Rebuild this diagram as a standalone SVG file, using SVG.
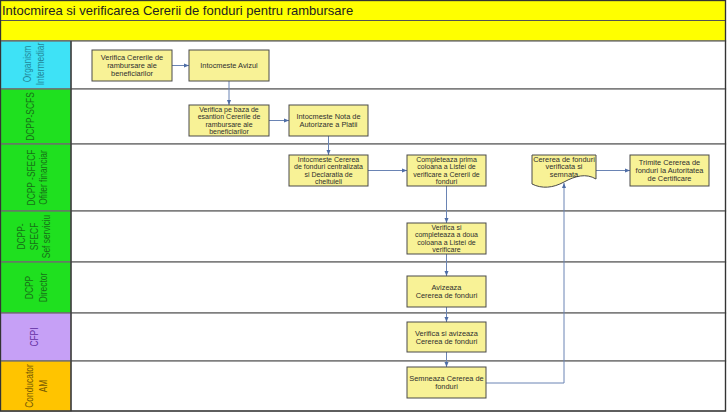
<svg xmlns="http://www.w3.org/2000/svg" width="728" height="412" viewBox="0 0 728 412">
<style>
.lane{fill:#fff;stroke:#6e6e6e;stroke-width:1.3}
.hdr{stroke:#555;stroke-width:1.2}
.lbl{font-family:"Liberation Sans",Arial,sans-serif;font-size:8.4px;text-anchor:middle}
.box{fill:#F8F296;stroke:#4a4a4a;stroke-width:1}
.t{font-family:"Liberation Sans",Arial,sans-serif;font-size:7.4px;fill:#2e2e2e;text-anchor:middle}
.t4{font-family:"Liberation Sans",Arial,sans-serif;font-size:7px;fill:#2e2e2e;text-anchor:middle}
.c{fill:none;stroke:#6A84B4;stroke-width:1}
</style>
<defs>
<marker id="ah" viewBox="0 0 10 10" refX="10" refY="5" markerWidth="5" markerHeight="5" orient="auto" markerUnits="userSpaceOnUse">
<path d="M0,1 L10,5 L0,9 z" fill="#4E6DA6"/>
</marker>
</defs>
<rect x="0" y="0" width="728" height="412" fill="#fff"/>
<g id="header">
<rect x="0.5" y="0.5" width="725" height="40.5" fill="#FFFF00" stroke="#555" stroke-width="1.2"/>
<line x1="0.5" y1="20.5" x2="725.5" y2="20.5" class="hdr"/>
<text x="2" y="14.8" font-family="'Liberation Sans',Arial,sans-serif" font-size="13" fill="#222">Intocmirea si verificarea Cererii de fonduri pentru rambursare</text>
</g>
<g id="lanes">
<rect class="lane" x="0.5" y="41" width="725" height="48"/>
<rect class="lane" x="0.5" y="89" width="725" height="55"/>
<rect class="lane" x="0.5" y="144" width="725" height="67"/>
<rect class="lane" x="0.5" y="211" width="725" height="51"/>
<rect class="lane" x="0.5" y="262" width="725" height="51"/>
<rect class="lane" x="0.5" y="313" width="725" height="48"/>
<rect class="lane" x="0.5" y="361" width="725" height="50"/>
<rect x="0.5" y="41" width="70.5" height="48" fill="#3EE2F6" stroke="#6e6e6e" stroke-width="1.3"/>
<rect x="0.5" y="89" width="70.5" height="55" fill="#1FE01F" stroke="#6e6e6e" stroke-width="1.3"/>
<rect x="0.5" y="144" width="70.5" height="67" fill="#1FE01F" stroke="#6e6e6e" stroke-width="1.3"/>
<rect x="0.5" y="211" width="70.5" height="51" fill="#1FE01F" stroke="#6e6e6e" stroke-width="1.3"/>
<rect x="0.5" y="262" width="70.5" height="51" fill="#1FE01F" stroke="#6e6e6e" stroke-width="1.3"/>
<rect x="0.5" y="313" width="70.5" height="48" fill="#C6A0F6" stroke="#6e6e6e" stroke-width="1.3"/>
<rect x="0.5" y="361" width="70.5" height="50" fill="#FFC400" stroke="#6e6e6e" stroke-width="1.3"/>
<line x1="71" y1="41" x2="71" y2="411" stroke="#333" stroke-width="1.2"/>
<rect x="0.5" y="0.5" width="725" height="410.5" fill="none" stroke="#333" stroke-width="1.2"/>
<text class="lbl" fill="#23899A" transform="translate(35.5,64) rotate(-90) scale(1,1.3)"><tspan x="0" y="-3.3">Organism</tspan><tspan x="0" y="6.7">Intermediar</tspan></text>
<text class="lbl" fill="#177017" transform="translate(35.5,116.5) rotate(-90) scale(1,1.3)"><tspan x="0" y="-1.2">DCPP-SCFS</tspan></text>
<text class="lbl" fill="#177017" transform="translate(35.5,177.5) rotate(-90) scale(1,1.3)"><tspan x="0" y="-0.4">DCPP -SFECF</tspan><tspan x="0" y="8.5">Ofiter financiar</tspan></text>
<text class="lbl" fill="#177017" transform="translate(35.5,236.5) rotate(-90) scale(1,1.3)"><tspan x="0" y="-8.1">DCPP-</tspan><tspan x="0" y="1.6">SFECF</tspan><tspan x="0" y="11.5">Sef serviciu</tspan></text>
<text class="lbl" fill="#177017" transform="translate(35.5,287.5) rotate(-90) scale(1,1.3)"><tspan x="0" y="-1.9">DCPP</tspan><tspan x="0" y="8.5">Director</tspan></text>
<text class="lbl" fill="#6530A4" transform="translate(35.5,337) rotate(-90) scale(1,1.3)"><tspan x="0" y="1.9">CFPI</tspan></text>
<text class="lbl" fill="#735804" transform="translate(35.5,386) rotate(-90) scale(1,1.3)"><tspan x="0" y="-1.9">Conducator</tspan><tspan x="0" y="8.5">AM</tspan></text>
</g>
<g id="connectors">
<path class="c" d="M172,65.5 H189" marker-end="url(#ah)"/>
<path class="c" d="M229,81 V105" marker-end="url(#ah)"/>
<path class="c" d="M269,120.5 H289" marker-end="url(#ah)"/>
<path class="c" d="M328.5,136 V155" marker-end="url(#ah)"/>
<path class="c" d="M368,170.5 H407" marker-end="url(#ah)"/>
<path class="c" d="M446.5,186 V223" marker-end="url(#ah)"/>
<path class="c" d="M446.5,254 V276" marker-end="url(#ah)"/>
<path class="c" d="M446.5,307 V322" marker-end="url(#ah)"/>
<path class="c" d="M446.5,352 V367" marker-end="url(#ah)"/>
<path class="c" d="M486,383 H564 V183" marker-end="url(#ah)"/>
<path class="c" d="M596,170.5 H630" marker-end="url(#ah)"/>
</g>
<g id="n1"><rect class="box" x="92" y="50" width="80" height="31"/><text class="t"><tspan x="132" y="59.8">Verifica Cererile de</tspan><tspan x="132" y="68.1">rambursare ale</tspan><tspan x="132" y="76.4">beneficiarilor</tspan></text></g>
<g id="n2"><rect class="box" x="189" y="50" width="80" height="31"/><text class="t"><tspan x="229" y="68.1">Intocmeste Avizul</tspan></text></g>
<g id="n3"><rect class="box" x="189" y="105" width="80" height="31"/><text class="t4"><tspan x="229" y="111.9">Verifica pe baza de</tspan><tspan x="229" y="119.3">esantion Cererile de</tspan><tspan x="229" y="126.7">rambursare ale</tspan><tspan x="229" y="134.1">beneficiarilor</tspan></text></g>
<g id="n4"><rect class="box" x="289" y="105" width="79" height="31"/><text class="t"><tspan x="328.5" y="119">Intocmeste Nota de</tspan><tspan x="328.5" y="127.3">Autorizare a Platii</tspan></text></g>
<g id="n5"><rect class="box" x="289" y="155" width="79" height="31"/><text class="t4"><tspan x="328.5" y="161.9">Intocmeste Cererea</tspan><tspan x="328.5" y="169.3">de fonduri centralizata</tspan><tspan x="328.5" y="176.7">si Declaratia de</tspan><tspan x="328.5" y="184.1">cheltuieli</tspan></text></g>
<g id="n6"><rect class="box" x="407" y="155" width="79" height="31"/><text class="t4"><tspan x="446.5" y="161.9">Completeaza prima</tspan><tspan x="446.5" y="169.3">coloana a Listei de</tspan><tspan x="446.5" y="176.7">verificare a Cererii de</tspan><tspan x="446.5" y="184.1">fonduri</tspan></text></g>
<g id="n7"><path class="box" d="M532,155 H596 V179 C586,173 575,176 564,182 C553,188 542,189 532,184 Z"/><text class="t"><tspan x="564" y="161.5">Cererea de fonduri</tspan><tspan x="564" y="169">verificata si</tspan><tspan x="564" y="176.5">semnata</tspan></text></g>
<g id="n8"><rect class="box" x="630" y="155" width="79" height="31"/><text class="t"><tspan x="669.5" y="164.8">Trimite Cererea de</tspan><tspan x="669.5" y="173.1">fonduri la Autoritatea</tspan><tspan x="669.5" y="181.4">de Certificare</tspan></text></g>
<g id="n9"><rect class="box" x="407" y="223" width="79" height="31"/><text class="t4"><tspan x="446.5" y="229.9">Verifica si</tspan><tspan x="446.5" y="237.3">completeaza a doua</tspan><tspan x="446.5" y="244.7">coloana a Listei de</tspan><tspan x="446.5" y="252.1">verificare</tspan></text></g>
<g id="n10"><rect class="box" x="407" y="276" width="79" height="31"/><text class="t"><tspan x="446.5" y="290">Avizeaza</tspan><tspan x="446.5" y="298.3">Cererea de fonduri</tspan></text></g>
<g id="n11"><rect class="box" x="407" y="322" width="79" height="30"/><text class="t"><tspan x="446.5" y="335.5">Verifica si avizeaza</tspan><tspan x="446.5" y="343.8">Cererea de fonduri</tspan></text></g>
<g id="n12"><rect class="box" x="407" y="367" width="79" height="31"/><text class="t"><tspan x="446.5" y="380.8">Semneaza Cererea de</tspan><tspan x="446.5" y="389.1">fonduri</tspan></text></g>
</svg>
